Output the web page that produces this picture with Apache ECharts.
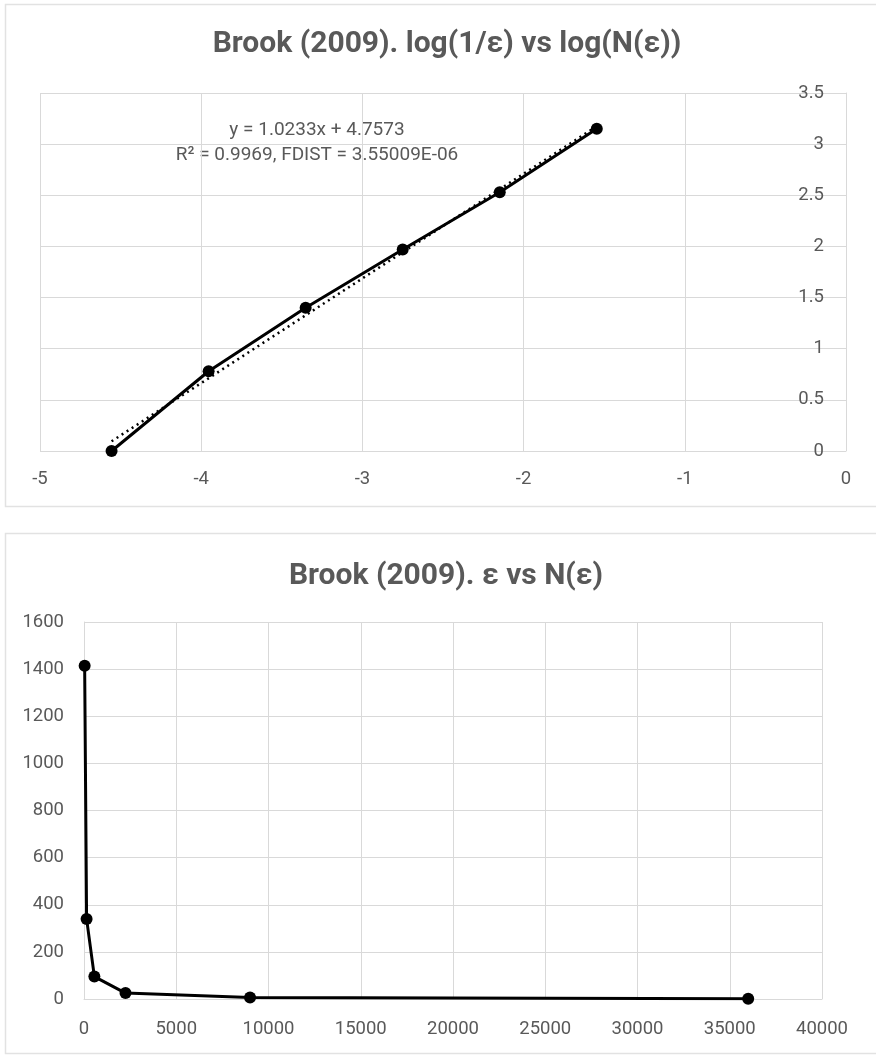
<!DOCTYPE html>
<html>
<head>
<meta charset="utf-8">
<script src="https://cdn.jsdelivr.net/npm/echarts@6/dist/echarts.min.js"></script>
<style>
  html, body { margin: 0; padding: 0; background: #fff; }
  #chart { width: 876px; height: 1055px; }
</style>
</head>
<body>
<div id="chart"></div>
<script>
// top chart: log(1/eps) vs log(N(eps))
const logX = [-4.556, -3.954, -3.352, -2.750, -2.148, -1.546]
const logY = [0, 0.78, 1.40, 1.97, 2.53, 3.15]
// trend line end points
const trendX = [-4.556, -1.546]
const trendY = [0.095, 3.175]
const trendText = ['y = 1.0233x + 4.7573', 'R² = 0.9969, FDIST = 3.55009E-06']

// bottom chart: eps vs N(eps)
const epsX = [35.2, 140.6, 562.5, 2250, 9000, 36000]
const epsY = [1414, 340, 95, 25, 6, 1]

const grey = '#595959'
const gridGrey = '#d9d9d9'
const font = 'Roboto, "Open Sans", sans-serif'

const zip = (a, b) => a.map((v, i) => [v, b[i]])
const plain = v => String(v)

const chart = echarts.init(document.getElementById('chart'))

chart.setOption({
  animation: false,
  textStyle: { fontFamily: font },
  title: [
    {
      text: 'Brook (2009). log(1/ε) vs log(N(ε))',
      left: 442, top: 24, textAlign: 'center',
      textStyle: { color: grey, fontSize: 30, fontWeight: 'bold', fontFamily: font }
    },
    {
      text: 'Brook (2009). ε vs N(ε)',
      left: 441, top: 556, textAlign: 'center',
      textStyle: { color: grey, fontSize: 30, fontWeight: 'bold', fontFamily: font }
    }
  ],
  graphic: [
    { type: 'rect', shape: { x: 5.5, y: 4.5, width: 880, height: 502 }, style: { fill: 'none', stroke: '#e2e2e2', lineWidth: 1.5 }, z: -1 },
    { type: 'rect', shape: { x: 5.5, y: 533.5, width: 880, height: 520 }, style: { fill: 'none', stroke: '#e2e2e2', lineWidth: 1.5 }, z: -1 },
    { type: 'text', x: 317, y: 130, style: { text: trendText[0], fill: grey, font: '19px ' + font, align: 'center', verticalAlign: 'middle' } },
    { type: 'text', x: 317, y: 155, style: { text: trendText[1], fill: grey, font: '19px ' + font, align: 'center', verticalAlign: 'middle' } }
  ],
  grid: [
    { left: 40, top: 93, width: 806, height: 358 },
    { left: 84, top: 622, width: 738, height: 377 }
  ],
  xAxis: [
    {
      gridIndex: 0, type: 'value', min: -5, max: 0, interval: 1,
      axisLine: { show: false }, axisTick: { show: false },
      axisLabel: { color: grey, fontSize: 18.5, margin: 19, formatter: plain },
      splitLine: { show: true, lineStyle: { color: gridGrey, width: 1 } }
    },
    {
      gridIndex: 1, type: 'value', min: 0, max: 40000, interval: 5000,
      axisLine: { show: true, lineStyle: { color: gridGrey } }, axisTick: { show: false },
      axisLabel: { color: grey, fontSize: 18.5, margin: 21, formatter: plain },
      splitLine: { show: true, lineStyle: { color: gridGrey, width: 1 } }
    }
  ],
  yAxis: [
    {
      gridIndex: 0, type: 'value', position: 'right', min: 0, max: 3.5, interval: 0.5,
      axisLine: { show: true, lineStyle: { color: gridGrey } }, axisTick: { show: false },
      axisLabel: { inside: true, color: grey, fontSize: 18.5, margin: 22, formatter: plain },
      splitLine: { show: true, lineStyle: { color: gridGrey, width: 1 } }
    },
    {
      gridIndex: 1, type: 'value', min: 0, max: 1600, interval: 200,
      axisLine: { show: true, lineStyle: { color: gridGrey } }, axisTick: { show: false },
      axisLabel: { color: grey, fontSize: 18.5, margin: 20, formatter: plain },
      splitLine: { show: true, lineStyle: { color: gridGrey, width: 1 } }
    }
  ],
  series: [
    {
      type: 'line', xAxisIndex: 0, yAxisIndex: 0,
      data: zip(trendX, trendY),
      showSymbol: false,
      lineStyle: { color: '#000', width: 2.5, type: [2, 4] },
      z: 3
    },
    {
      type: 'line', xAxisIndex: 0, yAxisIndex: 0,
      data: zip(logX, logY),
      symbol: 'circle', symbolSize: 12,
      itemStyle: { color: '#000' },
      lineStyle: { color: '#000', width: 3 },
      z: 4
    },
    {
      type: 'line', xAxisIndex: 1, yAxisIndex: 1,
      data: zip(epsX, epsY),
      symbol: 'circle', symbolSize: 12,
      itemStyle: { color: '#000' },
      lineStyle: { color: '#000', width: 3 },
      z: 4
    }
  ]
})
</script>
</body>
</html>
